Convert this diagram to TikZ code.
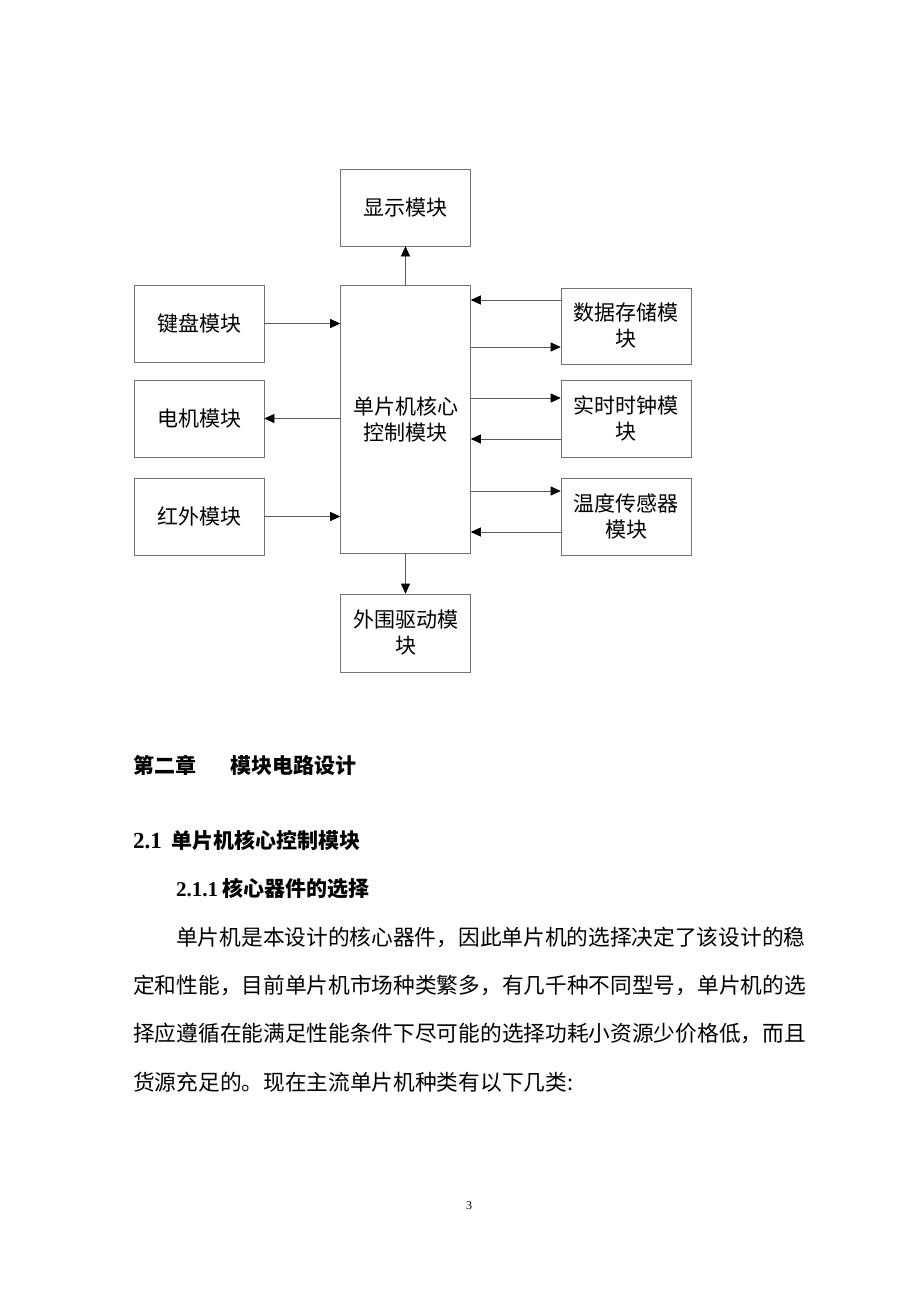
\documentclass[tikz,border=0pt]{standalone}
\usepackage{fontspec}
\setmainfont{Noto Sans CJK SC}
\newfontfamily\numfont{Liberation Serif}
\usetikzlibrary{arrows.meta}

\tikzset{
  modbox/.style={draw=black!55, line width=0.6pt, minimum width=130pt, minimum height=77pt,
    inner sep=0pt, align=center, font=\fontsize{21}{26}\selectfont},
  arr/.style={draw=black!65, line width=0.6pt, -{Triangle[length=10pt,width=9pt,color=black]}},
  bodyline/.style={anchor=base west, inner sep=0pt, font=\fontsize{21.7}{26}\selectfont}
}

\begin{document}
\begin{tikzpicture}[x=1pt, y=-1pt]
    \useasboundingbox[fill=white] (0,0) rectangle (920,1302);

    % Block diagram
    \node[modbox] (disp) at (405.5, 207.5) {显示模块};
    \node[modbox, minimum height=268pt] (core) at (405.5, 419) {单片机核心\\控制模块};
    \node[modbox] (key) at (199, 323.5) {键盘模块};
    \node[modbox] (motor) at (199, 418.5) {电机模块};
    \node[modbox] (ir) at (199, 516.5) {红外模块};
    \node[modbox, minimum height=76pt] (mem) at (626, 326) {数据存储模\\块};
    \node[modbox] (rtc) at (626, 418.5) {实时时钟模\\块};
    \node[modbox] (temp) at (626, 516.5) {温度传感器\\模块};
    \node[modbox, minimum height=78pt] (drv) at (405.5, 633) {外围驱动模\\块};

    % Connections
    \draw[arr] (core.north) -- (disp.south);
    \draw[arr] (core.south) -- (drv.north);
    \draw[arr] (key.east) -- (core.west |- key.east);
    \draw[arr] (core.west |- motor.east) -- (motor.east);
    \draw[arr] (ir.east) -- (core.west |- ir.east);
    \draw[arr] (mem.west |- 0,300) -- (core.east |- 0,300);
    \draw[arr] (core.east |- 0,347) -- (mem.west |- 0,347);
    \draw[arr] (core.east |- 0,398) -- (rtc.west |- 0,398);
    \draw[arr] (rtc.west |- 0,439) -- (core.east |- 0,439);
    \draw[arr] (core.east |- 0,491) -- (temp.west |- 0,491);
    \draw[arr] (temp.west |- 0,532) -- (core.east |- 0,532);

    % Text of the page
    \node[bodyline, font=\fontsize{21}{26}\selectfont\bfseries] (chap) at (133, 773) {第二章\hspace{34pt}模块电路设计};
    \node[bodyline, font=\fontsize{21}{26}\selectfont\bfseries] (sec) at (133, 848) {{\numfont\fontsize{23}{26}\selectfont 2.1}\hspace{10pt}单片机核心控制模块};
    \node[bodyline, font=\fontsize{21}{26}\selectfont\bfseries] (subsec) at (176, 896) {{\numfont 2.1.1}\hspace{4pt}核心器件的选择};
    \node[bodyline] (par1) at (176, 945) {单片机是本设计的核心器件，因此单片机的选择决定了该设计的稳};
    \node[bodyline] (par2) at (133, 993) {定和性能，目前单片机市场种类繁多，有几千种不同型号，单片机的选};
    \node[bodyline] (par3) at (133, 1041) {择应遵循在能满足性能条件下尽可能的选择功耗小资源少价格低，而且};
    \node[bodyline] (par4) at (133, 1090) {货源充足的。现在主流单片机种类有以下几类:};
    \node[font=\numfont\fontsize{12}{14}\selectfont] (pagenum) at (469, 1206) {3};
\end{tikzpicture}
\end{document}
